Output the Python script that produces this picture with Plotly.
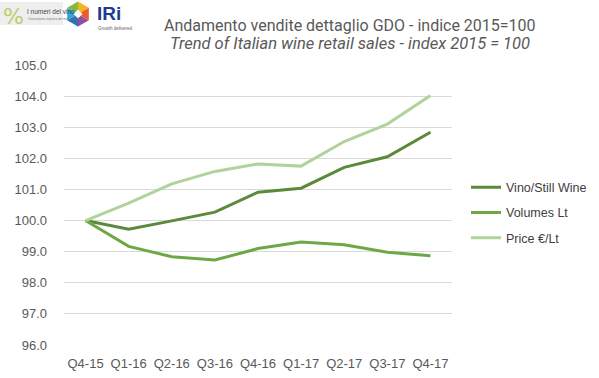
import math
import plotly.graph_objects as go

quarters = ["Q4-15", "Q1-16", "Q2-16", "Q3-16", "Q4-16", "Q1-17", "Q2-17", "Q3-17", "Q4-17"]
vino = [100.0, 99.72, 99.99, 100.27, 100.91, 101.04, 101.71, 102.05, 102.84]
volumes = [100.0, 99.17, 98.84, 98.73, 99.10, 99.31, 99.22, 98.98, 98.87]
price = [100.0, 100.56, 101.18, 101.58, 101.82, 101.75, 102.54, 103.10, 104.02]

series_names = ["Vino/Still Wine", "Volumes Lt", "Price €/Lt"]
colors = ["#5A8A3A", "#6EA846", "#B2D29C"]

W, H = 599, 378
ML, MR, MT, MB = 64, 147, 65, 33
PW, PH = W - ML - MR, H - MT - MB


def px(x):
    return (x - ML) / PW


def py(y):
    return (H - MB - y) / PH


fig = go.Figure()
for i, (name, vals, col) in enumerate(zip(series_names, [vino, volumes, price], colors)):
    fig.add_trace(go.Scatter(x=quarters, y=vals, name=name, mode="lines",
                             legendgroup=f"g{i}",
                             line=dict(color=col, width=3)))

font_title = "Roboto, Arial, sans-serif"
font_axis = "Liberation Sans, Arial, sans-serif"

fig.update_layout(
    width=W, height=H,
    margin=dict(l=ML, r=MR, t=MT, b=MB, autoexpand=False),
    plot_bgcolor="white", paper_bgcolor="white",
    font=dict(family=font_axis, size=13, color="#595959"),
    showlegend=True,
    legend=dict(x=px(466), y=py(212.5), xanchor="left", yanchor="middle",
                font=dict(size=12.5, color="#404040", family=font_axis), tracegroupgap=6,
                itemwidth=30, bgcolor="rgba(0,0,0,0)"),
    xaxis=dict(type="category", range=[-0.5, 8.5], showgrid=False, showline=False,
               automargin=False,
               ticks="outside", ticklen=6, tickcolor="rgba(0,0,0,0)",
               tickfont=dict(size=13, color="#595959")),
    yaxis=dict(range=[96, 105], dtick=1, tick0=96, tickformat=".1f", showgrid=True,
               automargin=False,
               gridcolor="#D9D9D9", gridwidth=1, zeroline=False, showline=False,
               ticks="", ticklabelstandoff=16, tickfont=dict(size=13, color="#595959")),
)

fig.add_annotation(text="Andamento vendite dettaglio GDO - indice 2015=100",
                   xref="paper", yref="paper", x=px(349.5), y=py(25),
                   xanchor="center", yanchor="middle", showarrow=False,
                   font=dict(family=font_title, size=16, color="#595959"))
fig.add_annotation(text="<i>Trend of Italian wine retail sales - index 2015 = 100</i>",
                   xref="paper", yref="paper", x=px(349.5), y=py(43),
                   xanchor="center", yanchor="middle", showarrow=False,
                   font=dict(family=font_title, size=16.5, color="#595959"))

# ---- Logos (approximation) ----
fig.add_shape(type="rect", xref="paper", yref="paper", x0=px(0), x1=px(63), y0=py(25), y1=py(2),
              line=dict(width=0), fillcolor="#EEEEEE", layer="above")
fig.add_annotation(text="%", xref="paper", yref="paper", x=px(1), y=py(17), xanchor="left",
                   yanchor="middle", showarrow=False,
                   font=dict(family="DejaVu Sans", size=22, color="#B9CF6A"))
fig.add_annotation(text="I numeri del vino", xref="paper", yref="paper", x=px(25), y=py(11),
                   xanchor="left", yanchor="middle", showarrow=False,
                   font=dict(family="Liberation Sans, Arial", size=6.5, color="#444444"))
fig.add_annotation(text="Osservatorio statistico del mercato del vino", xref="paper", yref="paper",
                   x=px(26), y=py(19), xanchor="left", yanchor="middle", showarrow=False,
                   font=dict(family="Liberation Sans, Arial", size=3, color="#777777"))

cx, cy, r = 78, 14, 12.5
verts = [(cx + r * math.sin(math.radians(a)), cy - r * math.cos(math.radians(a))) for a in range(0, 360, 60)]
hex_cols = ["#F5B521", "#EE5A2B", "#8E4FA0", "#2C6FB7", "#2FA7DF", "#7DBB42"]
for k in range(6):
    a1 = verts[k]
    a2 = verts[(k + 1) % 6]
    path = f"M {px(cx)} {py(cy)} L {px(a1[0])} {py(a1[1])} L {px(a2[0])} {py(a2[1])} Z"
    fig.add_shape(type="path", xref="paper", yref="paper", path=path,
                  fillcolor=hex_cols[k], line=dict(width=0), layer="above")
d = 4.5
fig.add_shape(type="path", xref="paper", yref="paper",
              path=f"M {px(cx)} {py(cy-d)} L {px(cx+d)} {py(cy)} L {px(cx)} {py(cy+d)} L {px(cx-d)} {py(cy)} Z",
              fillcolor="white", line=dict(width=0), layer="above")
fig.add_annotation(text="<b>IRi</b>", xref="paper", yref="paper", x=px(95), y=py(13),
                   xanchor="left", yanchor="middle", showarrow=False,
                   font=dict(family="Liberation Sans, Arial", size=19, color="#1B3D8F"))
fig.add_annotation(text="Growth delivered", xref="paper", yref="paper", x=px(96), y=py(28),
                   xanchor="left", yanchor="middle", showarrow=False,
                   font=dict(family="Liberation Sans, Arial", size=4.5, color="#666666"))

fig.write_html("out.html", config={"displayModeBar": False},
               post_script="document.body.style.margin='0';")
